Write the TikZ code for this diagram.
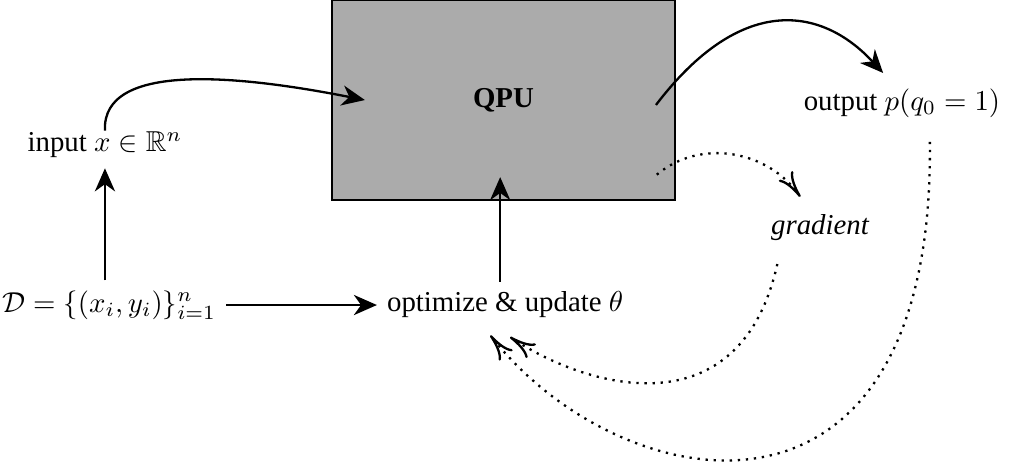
\documentclass[tikz,border=0pt]{standalone}
\usepackage{amsmath,amssymb}
\usepackage{fontspec}
\setmainfont{Liberation Serif}
\usepackage{xcolor}
\usetikzlibrary{arrows.meta}

\begin{document}
\begin{tikzpicture}[
        solidarr/.style={thick, -{Stealth[length=8pt,width=7pt,inset=2.5pt]}},
        dotarr/.style={thick, dotted, -{To[length=9pt,width=6pt]}}
    ]
        \useasboundingbox (0, 0) rectangle (12.476, -5.768);
        \draw[thick, fill=black!33] (4.05, 0) rectangle (8.23, -2.44);
        \node[font=\bfseries] (qpu) at (6.14, -1.22) {QPU};
        \node (input) at (1.28, -1.77) {input $x \in \mathbb{R}^n$};
        \node (data) at (1.33, -3.72) {$\mathcal{D} = \{(x_i, y_i)\}_{i=1}^n$};
        \node (optim) at (6.16, -3.72) {optimize \& update $\theta$};
        \node (output) at (11.0, -1.26) {output $p(q_0 = 1)$};
        \node[font=\itshape] (grad) at (10.0, -2.78) {gradient};
        % points inside the QPU box
        \coordinate (qin) at (4.45, -1.22);
        \coordinate (qout) at (8.0, -1.28);
        \coordinate (qgrad) at (8.01, -2.13);
        \coordinate (qopt) at (6.10, -2.16);
        % free ends of the other lines
        \coordinate (outtip) at (10.77, -0.89);
        \coordinate (gradtip) at (9.76, -2.40);
        \coordinate (gradstart) at (9.48, -3.22);
        \coordinate (outstart) at (11.34, -1.73);
        \coordinate (optA) at (5.98, -4.09);
        \coordinate (optB) at (6.22, -4.11);
        \draw[solidarr] (data.north -| input) -- (input.south);
        \draw[solidarr] (data.east) -- (optim.west);
        \draw[solidarr] (optim.north -| qopt) -- (qopt);
        \draw[solidarr] ([yshift=-3pt]input.north) .. controls +(-0.04, 0.85) and +(-1.52, 0.30) .. (qin);
        \draw[solidarr] (qout) .. controls +(1.02, 1.34) and +(-0.77, 0.83) .. (outtip);
        \draw[dotarr] (qgrad) to[out=40, in=125] (gradtip);
        \draw[dotarr] (gradstart) .. controls +(-0.45, -2.02) and +(0.98, -0.65) .. (optB);
        \draw[dotarr] (outstart) .. controls +(0.06, -5.10) and +(1.58, -2.01) .. (optA);
    \end{tikzpicture}
\end{document}
